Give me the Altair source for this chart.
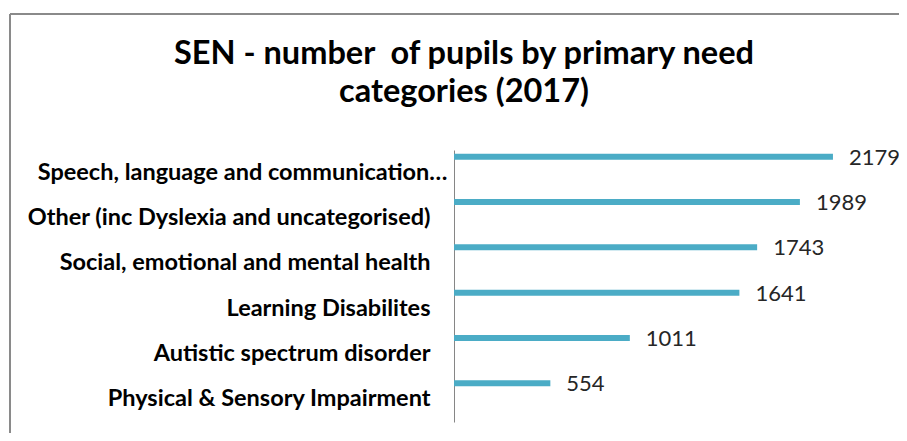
import altair as alt
import pandas as pd

categories = [
    "Speech, language and communication…",
    "Other (inc Dyslexia and uncategorised)",
    "Social, emotional and mental health",
    "Learning Disabilites",
    "Autistic spectrum disorder",
    "Physical & Sensory Impairment",
]
pupils = [2179, 1989, 1743, 1641, 1011, 554]
title_lines = ["SEN - number \u00a0of pupils by primary need", "categories (2017)"]

df = pd.DataFrame({"category": categories, "pupils": pupils})
frame_df = pd.DataFrame({"k": [0]})

W, H = 400, 272
FONT = "Lato"

y_enc = alt.Y(
    "category:N",
    sort=categories,
    scale=alt.Scale(paddingInner=0, paddingOuter=0),
    axis=alt.Axis(
        title=None, ticks=False, domain=True, domainColor="#868686", domainWidth=1,
        labelFont=FONT, labelFontWeight="bold", labelFontSize=23.5, labelColor="#000000",
        labelPadding={"condition": {"test": "indexof(datum.value, 'Speech') == 0", "value": 7}, "value": 24},
        labelLimit=0, grid=False,
    ),
)
x_enc = alt.X("pupils:Q", scale=alt.Scale(domain=[0, 2300]), axis=None)

bars = alt.Chart(df).mark_bar(height=6, yOffset=-16, color="#4BACC6").encode(x=x_enc, y=y_enc)
labels = alt.Chart(df).mark_text(
    align="left", baseline="middle", dx=16, yOffset=-15, font=FONT, fontSize=22, color="#262626"
).encode(x=x_enc, y=alt.Y("category:N", sort=categories), text=alt.Text("pupils:Q", format="d"))

border_top = alt.Chart(frame_df).mark_rule(color="#8a8a8a", strokeWidth=2).encode(
    x=alt.value(-444), x2=alt.value(W + 100), y=alt.value(-136)
)
border_left = alt.Chart(frame_df).mark_rule(color="#8a8a8a", strokeWidth=2).encode(
    x=alt.value(-444), y=alt.value(-136), y2=alt.value(H + 100)
)

title1 = alt.Chart(frame_df).mark_text(
    align="center", baseline="alphabetic", font=FONT, fontSize=32.5, fontWeight="bold", color="#000000"
).encode(x=alt.value(10), y=alt.value(-86.5), text=alt.value(title_lines[0]))
title2 = alt.Chart(frame_df).mark_text(
    align="center", baseline="alphabetic", font=FONT, fontSize=32.5, fontWeight="bold", color="#000000"
).encode(x=alt.value(10), y=alt.value(-48), text=alt.value(title_lines[1]))

chart = alt.layer(border_top, border_left, title1, title2, bars, labels).properties(
    width=W,
    height=H,
    padding={"left": 446, "top": 142, "right": 45, "bottom": 11},
    autosize=alt.AutoSizeParams(type="none"),
    background="white",
).configure_view(stroke=None)

chart.save("out.html", embed_options={"renderer": "svg", "actions": False})
